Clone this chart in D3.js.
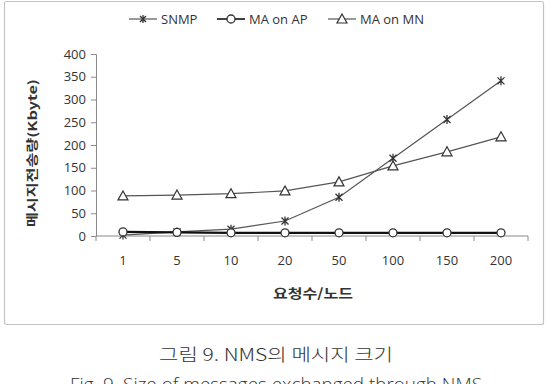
<!DOCTYPE html>
<html><head><meta charset="utf-8">
<script src="https://cdn.jsdelivr.net/npm/d3@7"></script>
<style>body{margin:0;background:#fff}svg{display:block}</style>
</head><body>
<script>
const categories = ["1","5","10","20","50","100","150","200"];
const snmp = [2, 9, 15, 33, 85, 171, 256, 341];
const maOnAP = [9, 8, 7, 7, 7, 7, 7, 7];
const maOnMN = [88, 90, 93, 99, 119, 154, 185, 218];
const yTicks = [0,50,100,150,200,250,300,350,400];
const seriesNames = ["SNMP","MA on AP","MA on MN"];

const W=556,H=384;
const svg=d3.select("body").append("svg").attr("width",W).attr("height",H);
const font="'Open Sans', sans-serif";
const kfont="'Noto Sans CJK KR', sans-serif";

// frame
svg.append("rect").attr("x",4.5).attr("y",1.5).attr("width",539).attr("height",323)
  .attr("rx",2).attr("fill","#fff").attr("stroke","#c4c4c4").attr("stroke-width",1.2);

const x=d3.scaleBand().domain(categories).range([96,528]).padding(0);
const y=d3.scaleLinear().domain([0,400]).range([236,54]);
const axisColor="#8a8a8a";

// y axis
const ya=svg.append("g").attr("transform","translate(96,0)")
  .call(d3.axisLeft(y).tickValues(yTicks).tickSize(5).tickPadding(5));
ya.select(".domain").attr("stroke",axisColor);
ya.selectAll(".tick line").attr("stroke",axisColor);
ya.selectAll("text").attr("font-family",font).attr("font-size",13).attr("fill","#333");

// x axis
const xa=svg.append("g").attr("transform","translate(0,236)")
  .call(d3.axisBottom(x).tickSize(0).tickPadding(20));
xa.select(".domain").attr("stroke",axisColor).attr("d","M96,0H528");
xa.selectAll("text").attr("font-family",font).attr("font-size",13).attr("fill","#333");
// category boundary ticks
const bounds=categories.map(c=>x(c)).concat([x.range()[1]]);
svg.append("g").selectAll("line").data(bounds).join("line")
  .attr("x1",d=>d).attr("x2",d=>d).attr("y1",236).attr("y2",241)
  .attr("stroke",axisColor);

// axis titles
svg.append("text").attr("transform","translate(37,153) rotate(-90)")
  .attr("text-anchor","middle").attr("font-family",kfont).attr("font-weight","bold")
  .attr("font-size",12).attr("fill","#333").attr("textLength",148).attr("lengthAdjust","spacingAndGlyphs")
  .text("메시지전송량(Kbyte)");
svg.append("text").attr("x",313).attr("y",298).attr("text-anchor","middle")
  .attr("font-family",kfont).attr("font-weight","bold").attr("font-size",13).attr("fill","#333")
  .attr("textLength",80).attr("lengthAdjust","spacingAndGlyphs")
  .text("요청수/노드");

const cx=c=>x(c)+x.bandwidth()/2;
const line=d3.line().x((d,i)=>cx(categories[i])).y(d=>y(d));

function star(g,px,py,s,col){
  g.append("path").attr("d",`M${px-s},${py-s}L${px+s},${py+s}M${px-s},${py+s}L${px+s},${py-s}M${px},${py-s-1}L${px},${py+s+1}`)
   .attr("stroke",col).attr("stroke-width",1.3).attr("fill","none");
}
function circ(g,px,py,col){
  g.append("circle").attr("cx",px).attr("cy",py).attr("r",4).attr("fill","#fff").attr("stroke",col).attr("stroke-width",1.3);
}
function tri(g,px,py,col){
  g.append("path").attr("d",`M${px},${py-5}L${px+5},${py+4}L${px-5},${py+4}Z`)
   .attr("fill","#fff").attr("stroke",col).attr("stroke-width",1.2);
}

const series=[
  {name:seriesNames[0],data:snmp,color:"#555",lw:1.2,mk:star},
  {name:seriesNames[1],data:maOnAP,color:"#111",lw:2.2,mk:circ},
  {name:seriesNames[2],data:maOnMN,color:"#555",lw:1.2,mk:tri}
];
const gl=svg.append("g");
series.forEach(s=>{
  gl.append("path").datum(s.data).attr("d",line).attr("fill","none")
    .attr("stroke",s.color).attr("stroke-width",s.lw);
});
series.forEach(s=>{
  s.data.forEach((v,i)=>{
    if(s.mk===star) star(gl,cx(categories[i]),y(v),3.5,"#333");
    else s.mk(gl,cx(categories[i]),y(v),"#333");
  });
});

// legend
const legX=[129,217,328];
series.forEach((s,i)=>{
  const lx=legX[i], ly=19;
  svg.append("line").attr("x1",lx).attr("x2",lx+28).attr("y1",ly).attr("y2",ly)
    .attr("stroke",s.color).attr("stroke-width",s.lw>2?1.6:1.2);
  if(s.mk===star) star(svg,lx+14,ly,3,"#333"); else s.mk(svg,lx+14,ly,"#333");
  svg.append("text").attr("x",lx+32).attr("y",ly+4.5).attr("font-family",font)
    .attr("font-size",13).attr("fill","#333").text(s.name);
});

// captions
svg.append("text").attr("x",276).attr("y",361).attr("text-anchor","middle")
  .attr("font-family",kfont).attr("font-weight",300).attr("font-size",17).attr("fill","#333")
  .attr("textLength",234).attr("lengthAdjust","spacingAndGlyphs")
  .text("그림 9. NMS의 메시지 크기");
svg.append("text").attr("x",276).attr("y",391).attr("text-anchor","middle")
  .attr("font-family",font).attr("font-weight",300).attr("font-size",18).attr("fill","#333")
  .attr("textLength",412).attr("lengthAdjust","spacingAndGlyphs")
  .text("Fig. 9. Size of messages exchanged through NMS");
</script>
</body></html>
